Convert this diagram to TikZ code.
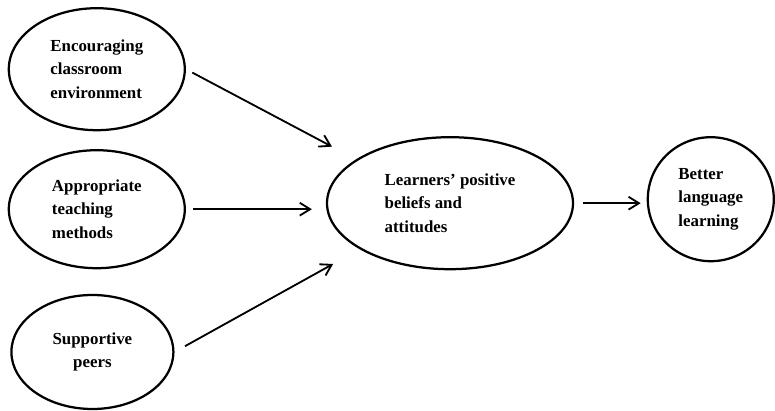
\documentclass[tikz,border=0pt]{standalone}
\usepackage{fontspec}
\setmainfont{Liberation Serif}
\usetikzlibrary{arrows.meta, shapes.geometric}
\tikzset{
  bub/.style={draw=black, ellipse, line width=1.6pt, inner sep=0pt, align=left,
              font=\bfseries\fontsize{12}{16.5}\selectfont},
  arr/.style={-{Straight Barb[length=2.6mm,width=3.2mm]}, line width=1.3pt},
}

\begin{document}
\begin{tikzpicture}[x=1cm, y=1cm]
\useasboundingbox (0,0) rectangle (19.375,10.25);

% the three causes
\node[bub, minimum width=4.4cm, minimum height=3.05cm] (env) at (2.42,8.52) {Encouraging\\classroom\\environment};
\node[bub, minimum width=4.4cm, minimum height=2.95cm] (meth) at (2.42,5.02) {Appropriate\\teaching\\methods};
\node[bub, align=center, minimum width=4.05cm, minimum height=2.85cm] (peer) at (2.31,1.45) {Supportive\\peers};

% what they lead to
\node[bub, minimum width=6.15cm, minimum height=3.3cm] (belief) at (11.25,5.17) {Learners’ positive\\beliefs and\\attitudes};
\node[bub, minimum width=3.15cm, minimum height=3.1cm] (learn) at (17.77,5.27) {Better\\language\\learning};

% arrows
\draw[arr, shorten <=0.18cm, shorten >=0.68cm] (env.east) -- (belief.155);
\draw[arr, shorten <=0.18cm, shorten >=0.35cm] (meth.east) -- (meth.east -| belief.west);
\draw[arr, shorten <=0.3cm, shorten >=0.76cm] (peer.east) -- (belief.207);
\draw[arr, shorten <=0.22cm, shorten >=0.15cm] (belief.east) -- (belief.east -| learn.west);
\end{tikzpicture}
\end{document}
